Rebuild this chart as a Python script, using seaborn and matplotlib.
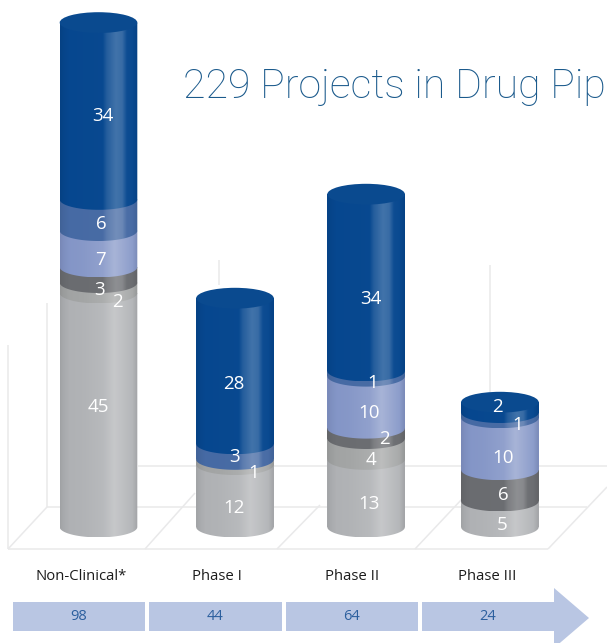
import numpy as np
import pandas as pd
import matplotlib
matplotlib.use("Agg")
import matplotlib.pyplot as plt
from matplotlib.colors import to_rgb
from matplotlib.patches import Polygon, Ellipse, Rectangle
import seaborn as sns

# ---- data ----
categories = ["Non-Clinical*", "Phase I", "Phase II", "Phase III"]
totals = [98, 44, 64, 24]
light_gray = [45, 12, 13, 5]
pale_gray = [2, 1, 4, 0]
dark_gray = [3, 0, 2, 6]
light_blue = [7, 0, 10, 10]
mid_blue = [6, 3, 1, 1]
dark_blue = [34, 28, 34, 2]
title_text = "229 Projects in Drug Pip"

# ---- style / layout ----
series = [light_gray, pale_gray, dark_gray, light_blue, mid_blue, dark_blue]
colors = ["#aeb0b3", "#a0a2a2", "#6a6c70", "#8294c6", "#466aa4", "#06478f"]
label_dx = [[0, -1, 3, 2], [19, 19, 5, 0], [1, 0, 18, 3],
            [2.5, 0, 3, 3], [2.5, 0, 7, 18], [4.5, -1, 5, -2]]
label_dy = [[-3, 12, 11, 11], [14, 11, 11, 0], [15, 0, 6, 10],
            [11, 0, 11, 14], [9, 5, 9, 10], [5, 13, 16, 0]]
nudge = [0, 0.02, 0, 0]
W, H, BASE = 607, 643, 527
PX_X, PX_Y, X0 = 133.8, 5.2, 98.5
BAR_W = 0.58
ELL = 2.0  # half-height of cylinder ellipse in value units


def X(px):
    return (px - X0) / PX_X


def Y(py):
    return (BASE - py) / PX_Y


def shade(base, n=200):
    t = np.linspace(0, 1, n)
    c = np.array(to_rgb(base))
    lum = c.mean()
    hi = np.interp(t, [0, .55, .60, .72, .80, .86, 1], [0, .01, .12, .24, .20, .03, 0])
    if lum > 0.5:
        hi = np.interp(t, [0, .3, .55, .70, .85, 1], [0, .04, .12, .30, .16, .02])
    dark = np.interp(t, [0, .04, .12, 1], [.08, .04, 0, 0]) + np.interp(t, [.93, 1], [0, .08])
    img = c[None, :] * (1 - hi[:, None]) + hi[:, None]
    img = img * (1 - dark[:, None])
    return img[None, :, :]


sns.set_theme(style="white")
plt.rcParams["font.family"] = ["Open Sans", "DejaVu Sans"]

fig = plt.figure(figsize=(W / 100, H / 100), dpi=100, facecolor="white")
ax = fig.add_axes([0, (H - BASE) / H, 1, BASE / H])
ax.set_facecolor("none")

# faint 3D chart frame
grid_col = "#e9e9ea"
frame = [((8, 549), (548, 549)), ((47, 507), (587, 507)), ((138, 466), (607, 466)),
         ((8, 549), (47, 507)), ((145, 549), (195, 493)), ((277, 549), (320, 505)),
         ((415, 549), (462, 499)), ((548, 549), (607, 487)),
         ((8, 549), (8, 345)), ((47, 507), (47, 303)), ((219, 285), (219, 260)),
         ((490, 392), (490, 265))]
for (a, b) in frame:
    ax.plot([X(a[0]), X(b[0])], [Y(a[1]), Y(b[1])], color=grid_col, lw=1.1,
            clip_on=False, zorder=1, solid_capstyle="butt")

# stacked bars
bottoms = np.zeros(4)
z = 5
tops = []
for s_i, (vals, col) in enumerate(zip(series, colors)):
    df = pd.DataFrame({"stage": categories, "value": vals})
    n_before = len(ax.patches)
    sns.barplot(data=df, x="stage", y="value", bottom=bottoms, color=col, saturation=1,
                width=BAR_W, ax=ax, zorder=z, linewidth=0, clip_on=False)
    bars = ax.patches[n_before:]
    for i, bar in enumerate(bars):
        bar.set_x(bar.get_x() + nudge[i])
        if vals[i] == 0:
            continue
        x0, w, y0, h = bar.get_x(), bar.get_width(), bar.get_y(), bar.get_height()
        theta = np.linspace(np.pi, 2 * np.pi, 60)
        ex = x0 + w / 2 + w / 2 * np.cos(theta)
        ey = y0 + ELL * np.sin(theta)
        pts = np.vstack([[x0, y0 + h], np.column_stack([ex, ey]), [x0 + w, y0 + h]])
        im = ax.imshow(shade(col), extent=(x0, x0 + w, y0 - ELL, y0 + h), aspect="auto",
                       zorder=z + 0.2, interpolation="bilinear")
        clip = Polygon(pts, closed=True, transform=ax.transData)
        im.set_clip_box(fig.bbox)
        im.set_clip_path(clip)
        ax.annotate(str(vals[i]), xy=(x0 + w / 2, y0 + h / 2),
                    xytext=(label_dx[s_i][i], -label_dy[s_i][i]),
                    textcoords="offset pixels", ha="center", va="center",
                    color="white", fontsize=13.5, zorder=60, annotation_clip=False)
        tops.append((x0 + w / 2, y0 + h, w, col, i))
    z += 1
    bottoms = bottoms + np.array(vals)

# cylinder lids
for i in range(4):
    top = [t for t in tops if t[4] == i][-1]
    ax.add_patch(Ellipse((top[0], top[1]), top[2], 2 * ELL, facecolor="#0a4a8f",
                         edgecolor="none", zorder=40, clip_on=False))

ax.set_xlim(X(0), X(W))
ax.set_ylim(0, BASE / PX_Y)

# tick labels (stage names)
ax.set_xticks(np.arange(4) * 1.012 - 0.13)
ax.set_xticklabels(categories, fontsize=10.7, color="#1c1c1c")
ax.tick_params(axis="x", length=0, pad=30)
ax.set_yticks([])
ax.set_xlabel("")
ax.set_ylabel("")
for sp in ax.spines.values():
    sp.set_visible(False)

# title
ax.text(X(183), Y(98), title_text, fontsize=29.5, color="#1b5a8c",
        family=["Roboto"], fontweight="light", ha="left",
        va="baseline", clip_on=False)

# progress arrow with totals
arrow_col = "#b9c6e3"
spans = [(13, 145), (149, 282), (286, 418), (422, 555)]
for (a, b), tot in zip(spans, totals):
    ax.add_patch(Rectangle((X(a), Y(631)), X(b) - X(a), Y(602) - Y(631), facecolor=arrow_col,
                           edgecolor="none", clip_on=False, zorder=2))
    ax.text(X((a + b) / 2 - 0.5), Y(617), str(tot), ha="center", va="center",
            color="#2c5f9e", fontsize=10.5, clip_on=False, zorder=3)
ax.add_patch(Polygon([(X(554), Y(588)), (X(589), Y(618)), (X(554), Y(648))], closed=True,
                     facecolor=arrow_col, edgecolor="none", clip_on=False, zorder=2))

fig.savefig("out.png", dpi=100, facecolor="white")
